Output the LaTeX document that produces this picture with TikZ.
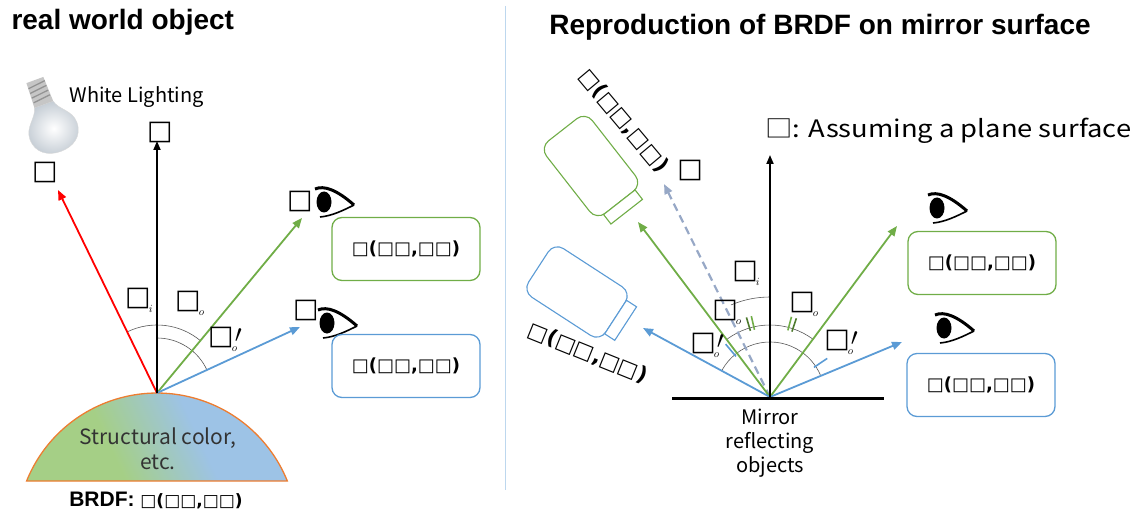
\documentclass[tikz,border=0pt]{standalone}
\usepackage{fontspec}
\setmainfont{Noto Sans CJK JP}
\newfontfamily\headfont{Liberation Sans}
\newfontfamily\boxfont{DejaVu Sans}
\newfontfamily\widefont[FakeStretch=1.14]{Noto Sans CJK JP}
\usetikzlibrary{arrows.meta}

\definecolor{lgreen}{HTML}{70AD47}
\definecolor{dgreen}{HTML}{4E7A2E}
\definecolor{lblue}{HTML}{5B9BD5}
\definecolor{rorange}{HTML}{ED7D31}
\definecolor{dgray}{HTML}{97A8C6}
\definecolor{domegreen}{HTML}{A5CF86}
\definecolor{domeblue}{HTML}{9DC3E6}
\definecolor{sepblue}{HTML}{BDD7EE}
\definecolor{bulbgray}{HTML}{C4CCD4}

\pgfdeclarehorizontalshading{dome}{100bp}{color(0bp)=(domegreen); color(38bp)=(domegreen); color(58bp)=(domeblue); color(100bp)=(domeblue)}

\newcommand{\angl}[2]{□\rlap{\kern-2pt\raisebox{-7pt}{\fontsize{11}{11}\selectfont$#1$}}\rlap{\kern1pt\raisebox{2pt}{$#2$}}}

\tikzset{
  eyeicon/.pic={
    \fill[white] (-11,-13) .. controls (5,-16) and (20,-6) .. (31,3) .. controls (20,10) and (5,17) .. (-7,16) -- cycle;
    \fill (0,0) ellipse [x radius=7.5pt, y radius=10.5pt];
    \draw[line width=3pt] (-9,-13) .. controls (0,-17) and (13,-12) .. (30,3);
    \draw[line width=1.6pt] (-4,15) .. controls (8,14) and (20,8) .. (30,3);
  },
  cam/.pic={
    \draw[line width=1.1pt,rounded corners=11pt,fill=white] (-46,-29) rectangle (46,29);
    \draw[line width=1.1pt,fill=white] (46,-20) rectangle (58,20);
  }
}

\begin{document}
\begin{tikzpicture}[x=1pt,y=-1pt,font=\fontsize{20}{24}\selectfont,
  arr/.style={-{Triangle[length=10pt,width=8pt]},line width=1.8pt},
  lab/.style={inner sep=0pt,font=\boxfont\bfseries\fontsize{27}{27}\selectfont},
  tof/.style={inner sep=0pt,font=\boxfont\bfseries\fontsize{21}{21}\selectfont},
  res/.style={draw,line width=1.3pt,rounded corners=10pt,minimum width=148pt,minimum height=63pt,inner sep=0pt,font=\boxfont\bfseries\fontsize{18}{18}\selectfont},
  arcl/.style={black!65,line width=0.6pt},
  head/.style={font=\headfont\bfseries\fontsize{28}{28}\selectfont}]
\useasboundingbox (0,0) rectangle (1143,513);

\node[head,anchor=west] (t1) at (8,22) {real world object};
\begin{scope}[shift={(52,127)},rotate=20]
  \shade[inner color=white,outer color=bulbgray,draw=gray!30]
    (-10,-24) .. controls (-12,-14) and (-25,-9) .. (-25,4) .. controls (-25,19) and (-13,26) .. (0,26)
    .. controls (13,26) and (25,19) .. (25,4) .. controls (25,-9) and (12,-14) .. (10,-24) -- cycle;
  \fill[gray!45] (-10,-24) -- (-9,-50) -- (9,-50) -- (10,-24) -- cycle;
  \foreach \t in {-29,-34,-39,-44} \draw[gray!85,line width=1.3pt] (-9,\t) -- (9,\t-2);
\end{scope}
\node[anchor=west] (wl) at (66,97) {White Lighting};

\coordinate (o1) at (157,393);
\coordinate (lt) at (58,190);
\coordinate (nt) at (157,141);
\coordinate (gt) at (302,218);
\coordinate (bt) at (300,327);

\shade[shading=dome,shading angle=25,draw=rorange,line width=1.3pt] (26.6,481) arc (-158:-22:140.6) -- cycle;
\node[align=center,text=black!80,font=\fontsize{21}{25}\selectfont] (sc) at (158,449) {Structural color,\\etc.};
\node[font=\headfont\bfseries\fontsize{21}{21}\selectfont] (brdf) at (156,500) {BRDF: {\boxfont\fontsize{17}{17}\selectfont□(□□,□□)}};

\draw[arcl] ([shift={(-116:68)}]o1) arc (-116:-50:68);
\draw[arcl] ([shift={(-90:55)}]o1) arc (-90:-24.5:55);
\draw[arr,red] (o1) -- (lt);
\draw[arr,lgreen] (o1) -- (gt);
\draw[arr,lblue] (o1) -- (bt);
\draw[-{Triangle[length=9pt,width=7pt]},line width=1.8pt] (o1) -- (nt);

\node[lab] (l1) at (45,172) {□};
\node[lab] (n1) at (160,132) {□};
\node[lab] (v1) at (300,201) {□};
\node[lab] (v2) at (306,310) {□};
\node[lab] (a1) at (138,300) {\angl{i}{}};
\node[lab] (a2) at (188,303) {\angl{o}{}};
\node[lab] (a3) at (221,339) {\angl{o}{\prime}};

\pic at (324,202) {eyeicon};
\pic at (327,323) {eyeicon};
\node[res,draw=lgreen] (r1) at (406,249) {□(□□,□□)};
\node[res,draw=lblue] (r2) at (406,366) {□(□□,□□)};

\draw[sepblue,line width=1pt] (505,6) -- (505,490);

\node[head] (t2) at (820,27) {Reproduction of BRDF on mirror surface};
\node[anchor=west,font=\widefont\fontsize{24}{24}\selectfont] (ps) at (762,131) {□: Assuming a plane surface};

\pic[rotate=-52,color=lgreen] at (591,166) {cam};
\pic[rotate=-33,color=lblue] at (577,292) {cam};
\node[tof,rotate=-50] (c1) at (624,121) {□(□□,□□)};
\node[tof,rotate=-22] (c2) at (588,353) {□(□□,□□)};

\coordinate (o2) at (770,397);
\coordinate (m1) at (672,398);
\coordinate (m2) at (884,398);
\coordinate (nt2) at (770,155);
\coordinate (glt) at (638,222);
\coordinate (dlt) at (664,184);
\coordinate (blt) at (643,328);
\coordinate (grt) at (897,226);
\coordinate (brt) at (902,342);

\draw[arcl] ([shift={(-113:100)}]o2) arc (-113:-90:100);
\draw[arcl] ([shift={(-127:72)}]o2) arc (-127:-53:72);
\draw[arcl] ([shift={(-151:55)}]o2) arc (-151:-23:55);
\foreach \a/\c in {103/lgreen,106.5/dgreen,71.5/dgreen,75/lgreen}
  \draw[\c,line width=1.6pt] ([shift={(-\a:69)}]o2) -- ([shift={(-\a:83)}]o2);
\foreach \a in {130,34}
  \draw[lblue,line width=1.6pt] ([shift={(-\a:53)}]o2) -- ([shift={(-\a:69)}]o2);

\draw[dgray,line width=2.2pt,dash pattern=on 8pt off 5pt,-{Triangle[length=10pt,width=8pt]}] (o2) -- (dlt);
\draw[arr,lgreen] (o2) -- (glt);
\draw[arr,lblue] (o2) -- (blt);
\draw[arr,lgreen] (o2) -- (grt);
\draw[arr,lblue] (o2) -- (brt);
\draw[-{Triangle[length=9pt,width=7pt]},line width=1.8pt] (o2) -- (nt2);
\draw[line width=3pt] (m1) -- (m2);

\node[lab] (l2) at (690,170) {□};
\node[lab] (a4) at (745,273) {\angl{i}{}};
\node[lab] (a5) at (725,312) {\angl{o}{}};
\node[lab] (a6) at (703,345) {\angl{o}{\prime}};
\node[lab] (a7) at (802,304) {\angl{o}{}};
\node[lab] (a8) at (837,342) {\angl{o}{\prime}};
\node[align=center] (mr) at (770,443) {Mirror\\reflecting\\objects};

\pic at (937,208) {eyeicon};
\pic at (944,328) {eyeicon};
\node[res,draw=lgreen] (r3) at (982,263) {□(□□,□□)};
\node[res,draw=lblue] (r4) at (981,385) {□(□□,□□)};
\end{tikzpicture}
\end{document}
